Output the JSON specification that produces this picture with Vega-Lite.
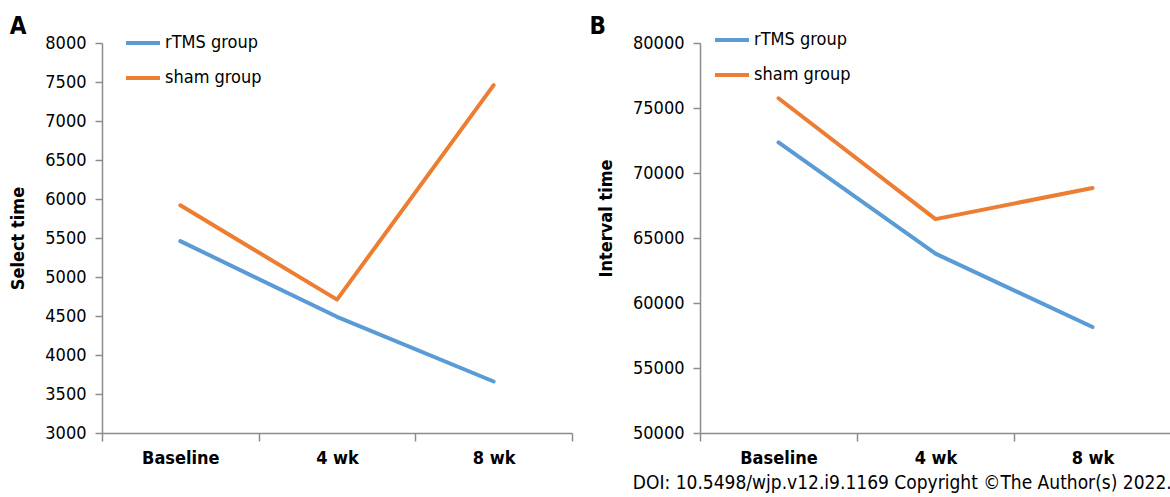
{
  "$schema": "https://vega.github.io/schema/vega-lite/v6.json",
  "background": "white",
  "padding": {"left": 9, "top": 15, "right": 2, "bottom": 2},
  "spacing": 16,
  "datasets": {
    "selectTime": [
      {"time": "Baseline", "group": "rTMS group", "value": 5460},
      {"time": "4 wk", "group": "rTMS group", "value": 4490},
      {"time": "8 wk", "group": "rTMS group", "value": 3660},
      {"time": "Baseline", "group": "sham group", "value": 5920},
      {"time": "4 wk", "group": "sham group", "value": 4710},
      {"time": "8 wk", "group": "sham group", "value": 7460}
    ],
    "intervalTime": [
      {"time": "Baseline", "group": "rTMS group", "value": 72350},
      {"time": "4 wk", "group": "rTMS group", "value": 63800},
      {"time": "8 wk", "group": "rTMS group", "value": 58150},
      {"time": "Baseline", "group": "sham group", "value": 75750},
      {"time": "4 wk", "group": "sham group", "value": 66450},
      {"time": "8 wk", "group": "sham group", "value": 68850}
    ]
  },
  "title": {
    "text": "DOI: 10.5498/wjp.v12.i9.1169  Copyright ©The Author(s) 2022.",
    "orient": "bottom",
    "anchor": "end",
    "fontSize": 19,
    "fontWeight": "normal",
    "color": "black",
    "offset": 7
  },
  "hconcat": [
    {
      "width": 470,
      "height": 390,
      "title": {"text": "A", "anchor": "start", "frame": "bounds", "fontSize": 24, "fontWeight": "bold", "color": "black", "offset": -15},
      "data": {"name": "selectTime"},
      "mark": {"type": "line", "strokeWidth": 4, "strokeCap": "round", "strokeJoin": "round"},
      "encoding": {
        "x": {
          "field": "time", "type": "ordinal", "sort": ["Baseline", "4 wk", "8 wk"],
          "bandPosition": 0.5,
          "scale": {"type": "band", "paddingInner": 0, "paddingOuter": 0},
          "axis": {"title": null, "labelAngle": 0, "labelFontWeight": "bold", "tickBand": "extent", "labelPadding": 8, "tickSize": 8}
        },
        "y": {
          "field": "value", "type": "quantitative",
          "scale": {"domain": [3000, 8000], "nice": false, "zero": false},
          "axis": {"title": "Select time", "format": "d", "values": [3000, 3500, 4000, 4500, 5000, 5500, 6000, 6500, 7000, 7500, 8000], "labelPadding": 9, "titlePadding": 17}
        },
        "color": {
          "field": "group", "type": "nominal",
          "scale": {"domain": ["rTMS group", "sham group"], "range": ["#5B9BD5", "#ED7D31"]},
          "legend": {"title": null, "orient": "none", "legendX": 22, "legendY": -19}
        }
      }
    },
    {
      "width": 471,
      "height": 390,
      "title": {"text": "B", "anchor": "start", "frame": "bounds", "fontSize": 24, "fontWeight": "bold", "color": "black", "offset": -18, "dx": -8},
      "data": {"name": "intervalTime"},
      "mark": {"type": "line", "strokeWidth": 4, "strokeCap": "round", "strokeJoin": "round"},
      "encoding": {
        "x": {
          "field": "time", "type": "ordinal", "sort": ["Baseline", "4 wk", "8 wk"],
          "bandPosition": 0.5,
          "scale": {"type": "band", "paddingInner": 0, "paddingOuter": 0},
          "axis": {"title": null, "labelAngle": 0, "labelFontWeight": "bold", "tickBand": "extent", "labelPadding": 8, "tickSize": 8}
        },
        "y": {
          "field": "value", "type": "quantitative",
          "scale": {"domain": [50000, 80000], "nice": false, "zero": false},
          "axis": {"title": "Interval time", "format": "d", "values": [50000, 55000, 60000, 65000, 70000, 75000, 80000], "labelPadding": 9, "titlePadding": 17, "titleY": 175}
        },
        "color": {
          "field": "group", "type": "nominal",
          "scale": {"domain": ["rTMS group", "sham group"], "range": ["#5B9BD5", "#ED7D31"]},
          "legend": {"title": null, "orient": "none", "legendX": 13, "legendY": -22}
        }
      }
    }
  ],
  "resolve": {"scale": {"color": "independent"}, "legend": {"color": "independent"}},
  "config": {
    "font": "DejaVu Sans Condensed, DejaVu Sans",
    "title": {"font": "DejaVu Sans Condensed, DejaVu Sans"},
    "view": {"stroke": null},
    "axis": {
      "domainColor": "#8c8c8c",
      "tickColor": "#8c8c8c",
      "domainWidth": 1.5,
      "tickWidth": 1.5,
      "tickSize": 7,
      "labelColor": "black",
      "labelFontSize": 18,
      "titleFontSize": 18,
      "titleFontWeight": "bold",
      "titleColor": "black",
      "grid": false
    },
    "legend": {
      "symbolType": "stroke",
      "symbolSize": 1156,
      "symbolStrokeWidth": 4,
      "labelFontSize": 18,
      "labelColor": "black",
      "labelOffset": 3,
      "rowPadding": 7,
      "padding": 0
    }
  }
}
